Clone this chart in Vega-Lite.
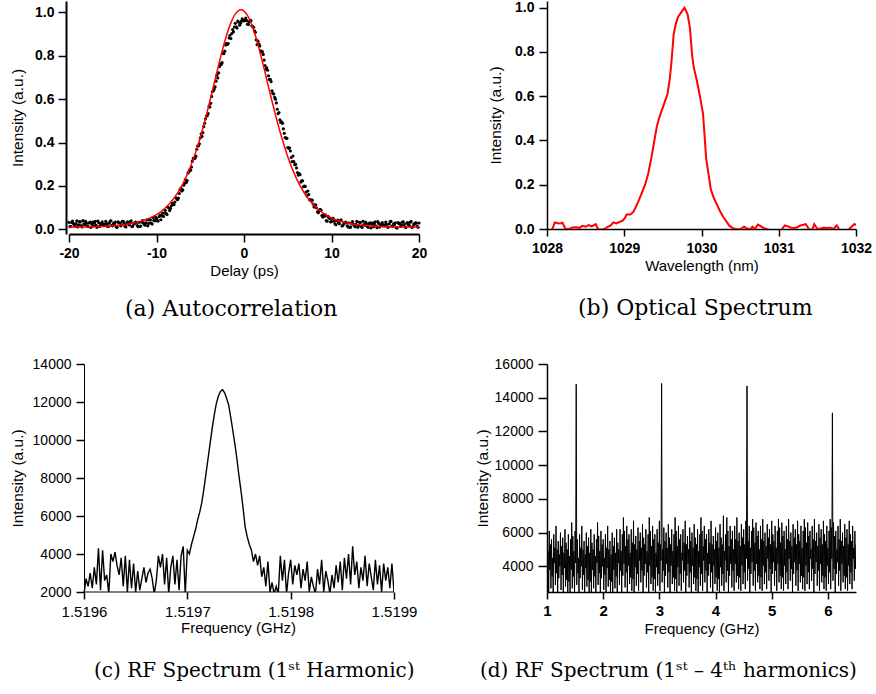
{
"$schema": "https://vega.github.io/schema/vega-lite/v6.json",
"background": "white",
"padding": {"left": 10, "top": 0, "right": 0, "bottom": 0},
"config": {
  "view": {"stroke": null},
  "font": "Liberation Sans",
  "axis": {"grid": false, "domainColor": "black", "tickColor": "black", "labelColor": "black", "titleColor": "black", "labelFont": "Liberation Sans", "titleFont": "Liberation Sans", "titleFontWeight": "normal", "domainWidth": 1.5, "tickWidth": 1.5, "labelOverlap": false},
  "title": {"font": "DejaVu Serif", "fontSize": 22, "fontWeight": "normal", "color": "black", "orient": "bottom", "anchor": "start"}
},
"datasets": {
"acDots": [
{"t":-20.0,"i":0.033},{"t":-19.9,"i":0.013},{"t":-19.8,"i":0.015},{"t":-19.7,"i":0.032},{"t":-19.6,"i":0.039},{"t":-19.5,"i":0.028},{"t":-19.4,"i":0.021},{"t":-19.3,"i":0.016},{"t":-19.2,"i":0.027},{"t":-19.1,"i":0.040},
{"t":-19.0,"i":0.012},{"t":-18.9,"i":0.021},{"t":-18.8,"i":0.036},{"t":-18.7,"i":0.035},{"t":-18.6,"i":0.018},{"t":-18.5,"i":0.012},{"t":-18.4,"i":0.041},{"t":-18.3,"i":0.026},{"t":-18.2,"i":0.023},{"t":-18.1,"i":0.037},
{"t":-18.0,"i":0.030},{"t":-17.9,"i":0.017},{"t":-17.8,"i":0.013},{"t":-17.7,"i":0.030},{"t":-17.6,"i":0.034},{"t":-17.5,"i":0.010},{"t":-17.4,"i":0.025},{"t":-17.3,"i":0.034},{"t":-17.2,"i":0.016},{"t":-17.1,"i":0.029},
{"t":-17.0,"i":0.038},{"t":-16.9,"i":0.019},{"t":-16.8,"i":0.010},{"t":-16.7,"i":0.039},{"t":-16.6,"i":0.031},{"t":-16.5,"i":0.014},{"t":-16.4,"i":0.020},{"t":-16.3,"i":0.027},{"t":-16.2,"i":0.035},{"t":-16.1,"i":0.024},
{"t":-16.0,"i":0.019},{"t":-15.9,"i":0.024},{"t":-15.8,"i":0.037},{"t":-15.7,"i":0.027},{"t":-15.6,"i":0.014},{"t":-15.5,"i":0.014},{"t":-15.4,"i":0.029},{"t":-15.3,"i":0.039},{"t":-15.2,"i":0.040},{"t":-15.1,"i":0.019},
{"t":-15.0,"i":0.017},{"t":-14.9,"i":0.029},{"t":-14.8,"i":0.026},{"t":-14.7,"i":0.034},{"t":-14.6,"i":0.011},{"t":-14.5,"i":0.010},{"t":-14.4,"i":0.035},{"t":-14.3,"i":0.030},{"t":-14.2,"i":0.031},{"t":-14.1,"i":0.017},
{"t":-14.0,"i":0.022},{"t":-13.9,"i":0.037},{"t":-13.8,"i":0.038},{"t":-13.7,"i":0.026},{"t":-13.6,"i":0.015},{"t":-13.5,"i":0.012},{"t":-13.4,"i":0.032},{"t":-13.3,"i":0.035},{"t":-13.2,"i":0.024},{"t":-13.1,"i":0.021},
{"t":-13.0,"i":0.036},{"t":-12.9,"i":0.040},{"t":-12.8,"i":0.013},{"t":-12.7,"i":0.016},{"t":-12.6,"i":0.028},{"t":-12.5,"i":0.028},{"t":-12.4,"i":0.034},{"t":-12.3,"i":0.032},{"t":-12.2,"i":0.018},{"t":-12.1,"i":0.013},
{"t":-12.0,"i":0.033},{"t":-11.9,"i":0.014},{"t":-11.8,"i":0.016},{"t":-11.7,"i":0.034},{"t":-11.6,"i":0.041},{"t":-11.5,"i":0.031},{"t":-11.4,"i":0.024},{"t":-11.3,"i":0.020},{"t":-11.2,"i":0.031},{"t":-11.1,"i":0.045},
{"t":-11.0,"i":0.017},{"t":-10.9,"i":0.028},{"t":-10.8,"i":0.044},{"t":-10.7,"i":0.045},{"t":-10.6,"i":0.029},{"t":-10.5,"i":0.025},{"t":-10.4,"i":0.055},{"t":-10.3,"i":0.042},{"t":-10.2,"i":0.040},{"t":-10.1,"i":0.056},
{"t":-10.0,"i":0.050},{"t":-9.9,"i":0.040},{"t":-9.8,"i":0.039},{"t":-9.7,"i":0.059},{"t":-9.6,"i":0.066},{"t":-9.5,"i":0.045},{"t":-9.4,"i":0.063},{"t":-9.3,"i":0.075},{"t":-9.2,"i":0.060},{"t":-9.1,"i":0.076},
{"t":-9.0,"i":0.088},{"t":-8.9,"i":0.074},{"t":-8.8,"i":0.069},{"t":-8.7,"i":0.103},{"t":-8.6,"i":0.099},{"t":-8.5,"i":0.087},{"t":-8.4,"i":0.097},{"t":-8.3,"i":0.109},{"t":-8.2,"i":0.121},{"t":-8.1,"i":0.115},
{"t":-8.0,"i":0.114},{"t":-7.9,"i":0.126},{"t":-7.8,"i":0.146},{"t":-7.7,"i":0.143},{"t":-7.6,"i":0.137},{"t":-7.5,"i":0.144},{"t":-7.4,"i":0.166},{"t":-7.3,"i":0.183},{"t":-7.2,"i":0.191},{"t":-7.1,"i":0.177},
{"t":-7.0,"i":0.182},{"t":-6.9,"i":0.204},{"t":-6.8,"i":0.211},{"t":-6.7,"i":0.229},{"t":-6.6,"i":0.216},{"t":-6.5,"i":0.225},{"t":-6.4,"i":0.260},{"t":-6.3,"i":0.265},{"t":-6.2,"i":0.276},{"t":-6.1,"i":0.272},
{"t":-6.0,"i":0.287},{"t":-5.9,"i":0.314},{"t":-5.8,"i":0.327},{"t":-5.7,"i":0.327},{"t":-5.6,"i":0.328},{"t":-5.5,"i":0.337},{"t":-5.4,"i":0.369},{"t":-5.3,"i":0.384},{"t":-5.2,"i":0.385},{"t":-5.1,"i":0.394},
{"t":-5.0,"i":0.421},{"t":-4.9,"i":0.440},{"t":-4.8,"i":0.428},{"t":-4.7,"i":0.446},{"t":-4.6,"i":0.473},{"t":-4.5,"i":0.488},{"t":-4.4,"i":0.509},{"t":-4.3,"i":0.522},{"t":-4.2,"i":0.523},{"t":-4.1,"i":0.533},
{"t":-4.0,"i":0.568},{"t":-3.9,"i":0.563},{"t":-3.8,"i":0.580},{"t":-3.7,"i":0.612},{"t":-3.6,"i":0.634},{"t":-3.5,"i":0.638},{"t":-3.4,"i":0.646},{"t":-3.3,"i":0.656},{"t":-3.2,"i":0.682},{"t":-3.1,"i":0.710},
{"t":-3.0,"i":0.697},{"t":-2.9,"i":0.720},{"t":-2.8,"i":0.749},{"t":-2.7,"i":0.762},{"t":-2.6,"i":0.759},{"t":-2.5,"i":0.767},{"t":-2.4,"i":0.810},{"t":-2.3,"i":0.809},{"t":-2.2,"i":0.820},{"t":-2.1,"i":0.848},
{"t":-2.0,"i":0.855},{"t":-1.9,"i":0.851},{"t":-1.8,"i":0.855},{"t":-1.7,"i":0.881},{"t":-1.6,"i":0.893},{"t":-1.5,"i":0.878},{"t":-1.4,"i":0.901},{"t":-1.3,"i":0.919},{"t":-1.2,"i":0.909},{"t":-1.1,"i":0.931},
{"t":-1.0,"i":0.948},{"t":-0.9,"i":0.932},{"t":-0.8,"i":0.926},{"t":-0.7,"i":0.958},{"t":-0.6,"i":0.953},{"t":-0.5,"i":0.939},{"t":-0.4,"i":0.948},{"t":-0.3,"i":0.958},{"t":-0.2,"i":0.969},{"t":-0.1,"i":0.961},
{"t":0.0,"i":0.959},{"t":0.1,"i":0.962},{"t":0.2,"i":0.972},{"t":0.3,"i":0.960},{"t":0.4,"i":0.944},{"t":0.5,"i":0.942},{"t":0.6,"i":0.954},{"t":0.7,"i":0.962},{"t":0.8,"i":0.960},{"t":0.9,"i":0.937},
{"t":1.0,"i":0.932},{"t":1.1,"i":0.930},{"t":1.2,"i":0.913},{"t":1.3,"i":0.907},{"t":1.4,"i":0.872},{"t":1.5,"i":0.850},{"t":1.6,"i":0.866},{"t":1.7,"i":0.852},{"t":1.8,"i":0.844},{"t":1.9,"i":0.821},
{"t":2.0,"i":0.817},{"t":2.1,"i":0.818},{"t":2.2,"i":0.805},{"t":2.3,"i":0.779},{"t":2.4,"i":0.754},{"t":2.5,"i":0.737},{"t":2.6,"i":0.743},{"t":2.7,"i":0.732},{"t":2.8,"i":0.707},{"t":2.9,"i":0.690},
{"t":3.0,"i":0.691},{"t":3.1,"i":0.680},{"t":3.2,"i":0.638},{"t":3.3,"i":0.626},{"t":3.4,"i":0.623},{"t":3.5,"i":0.608},{"t":3.6,"i":0.599},{"t":3.7,"i":0.582},{"t":3.8,"i":0.553},{"t":3.9,"i":0.533},
{"t":4.0,"i":0.538},{"t":4.1,"i":0.504},{"t":4.2,"i":0.492},{"t":4.3,"i":0.495},{"t":4.4,"i":0.488},{"t":4.5,"i":0.463},{"t":4.6,"i":0.442},{"t":4.7,"i":0.423},{"t":4.8,"i":0.420},{"t":4.9,"i":0.419},
{"t":5.0,"i":0.377},{"t":5.1,"i":0.373},{"t":5.2,"i":0.375},{"t":5.3,"i":0.361},{"t":5.4,"i":0.331},{"t":5.5,"i":0.312},{"t":5.6,"i":0.338},{"t":5.7,"i":0.312},{"t":5.8,"i":0.298},{"t":5.9,"i":0.300},
{"t":6.0,"i":0.283},{"t":6.1,"i":0.262},{"t":6.2,"i":0.250},{"t":6.3,"i":0.257},{"t":6.4,"i":0.252},{"t":6.5,"i":0.218},{"t":6.6,"i":0.224},{"t":6.7,"i":0.224},{"t":6.8,"i":0.197},{"t":6.9,"i":0.200},
{"t":7.0,"i":0.198},{"t":7.1,"i":0.172},{"t":7.2,"i":0.155},{"t":7.3,"i":0.177},{"t":7.4,"i":0.161},{"t":7.5,"i":0.137},{"t":7.6,"i":0.135},{"t":7.7,"i":0.135},{"t":7.8,"i":0.135},{"t":7.9,"i":0.117},
{"t":8.0,"i":0.104},{"t":8.1,"i":0.105},{"t":8.2,"i":0.113},{"t":8.3,"i":0.099},{"t":8.4,"i":0.081},{"t":8.5,"i":0.077},{"t":8.6,"i":0.087},{"t":8.7,"i":0.093},{"t":8.8,"i":0.089},{"t":8.9,"i":0.064},
{"t":9.0,"i":0.057},{"t":9.1,"i":0.067},{"t":9.2,"i":0.061},{"t":9.3,"i":0.067},{"t":9.4,"i":0.041},{"t":9.5,"i":0.038},{"t":9.6,"i":0.060},{"t":9.7,"i":0.053},{"t":9.8,"i":0.051},{"t":9.9,"i":0.035},
{"t":10.0,"i":0.037},{"t":10.1,"i":0.051},{"t":10.2,"i":0.051},{"t":10.3,"i":0.038},{"t":10.4,"i":0.026},{"t":10.5,"i":0.022},{"t":10.6,"i":0.041},{"t":10.7,"i":0.043},{"t":10.8,"i":0.031},{"t":10.9,"i":0.027},
{"t":11.0,"i":0.041},{"t":11.1,"i":0.044},{"t":11.2,"i":0.016},{"t":11.3,"i":0.019},{"t":11.4,"i":0.030},{"t":11.5,"i":0.029},{"t":11.6,"i":0.034},{"t":11.7,"i":0.032},{"t":11.8,"i":0.017},{"t":11.9,"i":0.011},
{"t":12.0,"i":0.030},{"t":12.1,"i":0.010},{"t":12.2,"i":0.012},{"t":12.3,"i":0.029},{"t":12.4,"i":0.036},{"t":12.5,"i":0.025},{"t":12.6,"i":0.018},{"t":12.7,"i":0.013},{"t":12.8,"i":0.024},{"t":12.9,"i":0.037},
{"t":13.0,"i":0.010},{"t":13.1,"i":0.018},{"t":13.2,"i":0.033},{"t":13.3,"i":0.032},{"t":13.4,"i":0.015},{"t":13.5,"i":0.009},{"t":13.6,"i":0.038},{"t":13.7,"i":0.023},{"t":13.8,"i":0.020},{"t":13.9,"i":0.034},
{"t":14.0,"i":0.027},{"t":14.1,"i":0.014},{"t":14.2,"i":0.010},{"t":14.3,"i":0.027},{"t":14.4,"i":0.031},{"t":14.5,"i":0.007},{"t":14.6,"i":0.022},{"t":14.7,"i":0.031},{"t":14.8,"i":0.013},{"t":14.9,"i":0.026},
{"t":15.0,"i":0.035},{"t":15.1,"i":0.016},{"t":15.2,"i":0.008},{"t":15.3,"i":0.036},{"t":15.4,"i":0.028},{"t":15.5,"i":0.011},{"t":15.6,"i":0.017},{"t":15.7,"i":0.024},{"t":15.8,"i":0.032},{"t":15.9,"i":0.021},
{"t":16.0,"i":0.016},{"t":16.1,"i":0.021},{"t":16.2,"i":0.034},{"t":16.3,"i":0.024},{"t":16.4,"i":0.011},{"t":16.5,"i":0.011},{"t":16.6,"i":0.026},{"t":16.7,"i":0.036},{"t":16.8,"i":0.037},{"t":16.9,"i":0.016},
{"t":17.0,"i":0.014},{"t":17.1,"i":0.026},{"t":17.2,"i":0.023},{"t":17.3,"i":0.031},{"t":17.4,"i":0.008},{"t":17.5,"i":0.007},{"t":17.6,"i":0.032},{"t":17.7,"i":0.027},{"t":17.8,"i":0.028},{"t":17.9,"i":0.014},
{"t":18.0,"i":0.019},{"t":18.1,"i":0.034},{"t":18.2,"i":0.035},{"t":18.3,"i":0.023},{"t":18.4,"i":0.012},{"t":18.5,"i":0.009},{"t":18.6,"i":0.029},{"t":18.7,"i":0.032},{"t":18.8,"i":0.021},{"t":18.9,"i":0.018},
{"t":19.0,"i":0.033},{"t":19.1,"i":0.037},{"t":19.2,"i":0.010},{"t":19.3,"i":0.013},{"t":19.4,"i":0.025},{"t":19.5,"i":0.025},{"t":19.6,"i":0.031},{"t":19.7,"i":0.029},{"t":19.8,"i":0.015},{"t":19.9,"i":0.010},
{"t":20.0,"i":0.030}
],
"acFit": [
{"t":-20,"i":0.011},{"t":-19,"i":0.011},{"t":-18,"i":0.012},{"t":-17,"i":0.013},{"t":-16,"i":0.014},{"t":-15,"i":0.017},{"t":-14,"i":0.021},{"t":-13,"i":0.026},{"t":-12,"i":0.035},{"t":-11,"i":0.048},
{"t":-10,"i":0.068},{"t":-9,"i":0.099},{"t":-8,"i":0.144},{"t":-7,"i":0.209},{"t":-6,"i":0.301},{"t":-5.5,"i":0.358},{"t":-5,"i":0.423},{"t":-4.5,"i":0.494},{"t":-4,"i":0.574},{"t":-3.5,"i":0.657},
{"t":-3,"i":0.740},{"t":-2.5,"i":0.820},{"t":-2,"i":0.892},{"t":-1.5,"i":0.950},{"t":-1,"i":0.990},{"t":-0.5,"i":1.009},{"t":-0.35,"i":1.010},{"t":0,"i":1.004},{"t":0.5,"i":0.977},{"t":1,"i":0.929},
{"t":1.5,"i":0.865},{"t":2,"i":0.788},{"t":2.5,"i":0.706},{"t":3,"i":0.623},{"t":3.5,"i":0.542},{"t":4,"i":0.466},{"t":4.5,"i":0.398},{"t":5,"i":0.334},{"t":6,"i":0.234},{"t":7,"i":0.161},
{"t":8,"i":0.111},{"t":9,"i":0.076},{"t":10,"i":0.053},{"t":11,"i":0.038},{"t":12,"i":0.029},{"t":13,"i":0.022},{"t":14,"i":0.018},{"t":15,"i":0.015},{"t":16,"i":0.013},{"t":17,"i":0.012},
{"t":18,"i":0.011},{"t":19,"i":0.011},{"t":20,"i":0.011}
],
"optSpec": [
{"w":1028.0,"i":-0.03},{"w":1028.07,"i":0.0},{"w":1028.1,"i":0.03},{"w":1028.14,"i":0.026},{"w":1028.17,"i":0.025},{"w":1028.2,"i":0.028},{"w":1028.24,"i":0.0},{"w":1028.29,"i":0.0},{"w":1028.33,"i":0.007},{"w":1028.38,"i":0.008},
{"w":1028.42,"i":0.005},{"w":1028.46,"i":0.014},{"w":1028.5,"i":0.01},{"w":1028.54,"i":0.018},{"w":1028.58,"i":0.012},{"w":1028.63,"i":0.022},{"w":1028.66,"i":0.0},{"w":1028.7,"i":-0.003},{"w":1028.74,"i":0.0},{"w":1028.78,"i":0.008},
{"w":1028.82,"i":0.015},{"w":1028.86,"i":0.03},{"w":1028.9,"i":0.025},{"w":1028.94,"i":0.032},{"w":1028.98,"i":0.038},{"w":1029.01,"i":0.05},{"w":1029.03,"i":0.066},{"w":1029.08,"i":0.066},{"w":1029.12,"i":0.078},{"w":1029.15,"i":0.1},
{"w":1029.19,"i":0.13},{"w":1029.23,"i":0.165},{"w":1029.27,"i":0.2},{"w":1029.31,"i":0.25},{"w":1029.35,"i":0.32},{"w":1029.39,"i":0.4},{"w":1029.42,"i":0.46},{"w":1029.45,"i":0.5},{"w":1029.48,"i":0.53},{"w":1029.52,"i":0.57},
{"w":1029.56,"i":0.61},{"w":1029.59,"i":0.68},{"w":1029.61,"i":0.75},{"w":1029.64,"i":0.88},{"w":1029.67,"i":0.93},{"w":1029.7,"i":0.96},{"w":1029.74,"i":0.98},{"w":1029.78,"i":1.0},{"w":1029.82,"i":0.97},{"w":1029.85,"i":0.91},
{"w":1029.88,"i":0.78},{"w":1029.9,"i":0.73},{"w":1029.94,"i":0.67},{"w":1029.98,"i":0.6},{"w":1030.02,"i":0.52},{"w":1030.04,"i":0.42},{"w":1030.06,"i":0.32},{"w":1030.09,"i":0.25},{"w":1030.12,"i":0.18},{"w":1030.16,"i":0.14},
{"w":1030.2,"i":0.11},{"w":1030.24,"i":0.08},{"w":1030.28,"i":0.055},{"w":1030.32,"i":0.035},{"w":1030.36,"i":0.015},{"w":1030.4,"i":0.005},{"w":1030.44,"i":0.0},{"w":1030.48,"i":-0.002},{"w":1030.52,"i":0.003},{"w":1030.55,"i":0.01},
{"w":1030.59,"i":0.002},{"w":1030.63,"i":-0.002},{"w":1030.66,"i":0.01},{"w":1030.69,"i":0.0},{"w":1030.73,"i":0.02},{"w":1030.77,"i":0.012},{"w":1030.81,"i":0.003},{"w":1030.86,"i":-0.002},{"w":1030.9,"i":-0.03},{"w":1030.98,"i":-0.03},
{"w":1031.04,"i":0.0},{"w":1031.08,"i":0.016},{"w":1031.12,"i":0.012},{"w":1031.16,"i":0.006},{"w":1031.2,"i":0.005},{"w":1031.24,"i":0.008},{"w":1031.28,"i":0.016},{"w":1031.33,"i":0.02},{"w":1031.35,"i":0.022},{"w":1031.39,"i":0.0},
{"w":1031.43,"i":-0.005},{"w":1031.46,"i":0.022},{"w":1031.5,"i":0.0},{"w":1031.54,"i":0.002},{"w":1031.58,"i":0.006},{"w":1031.62,"i":0.005},{"w":1031.67,"i":0.006},{"w":1031.71,"i":0.0},{"w":1031.75,"i":0.016},{"w":1031.78,"i":0.0},
{"w":1031.82,"i":-0.02},{"w":1031.87,"i":-0.02},{"w":1031.91,"i":0.0},{"w":1031.95,"i":0.012},{"w":1031.98,"i":0.022},{"w":1032.0,"i":0.017}
],
"rf1base": [
{"f0":1.5196,"f1":1.5199,"p":2000}
],
"rf1": [
{"f":1.519600,"p":1900},{"f":1.519602,"p":2700},{"f":1.519604,"p":2300},{"f":1.519606,"p":3000},{"f":1.519608,"p":2200},{"f":1.519610,"p":3300},{"f":1.519612,"p":2400},{"f":1.519614,"p":4300},{"f":1.519616,"p":2100},{"f":1.519618,"p":4200},
{"f":1.519620,"p":2600},{"f":1.519622,"p":2900},{"f":1.519624,"p":1900},{"f":1.519626,"p":4000},{"f":1.519628,"p":3600},{"f":1.519630,"p":4100},{"f":1.519632,"p":3400},{"f":1.519634,"p":2900},{"f":1.519636,"p":3800},{"f":1.519638,"p":2300},
{"f":1.519640,"p":3900},{"f":1.519642,"p":2000},{"f":1.519644,"p":3700},{"f":1.519646,"p":2200},{"f":1.519648,"p":3500},{"f":1.519650,"p":2000},{"f":1.519652,"p":3100},{"f":1.519654,"p":2100},{"f":1.519656,"p":2700},{"f":1.519658,"p":3300},
{"f":1.519660,"p":2500},{"f":1.519662,"p":3000},{"f":1.519664,"p":3200},{"f":1.519666,"p":2700},{"f":1.519668,"p":1900},{"f":1.519670,"p":2600},{"f":1.519672,"p":3900},{"f":1.519674,"p":3300},{"f":1.519676,"p":4000},{"f":1.519678,"p":2400},
{"f":1.519680,"p":3800},{"f":1.519682,"p":1900},{"f":1.519684,"p":3300},{"f":1.519686,"p":3900},{"f":1.519688,"p":2400},{"f":1.519690,"p":3700},{"f":1.519692,"p":2100},{"f":1.519694,"p":3900},{"f":1.519696,"p":4400},{"f":1.519698,"p":1900},
{"f":1.519700,"p":4200},{"f":1.519702,"p":4000},{"f":1.519704,"p":4500},{"f":1.519706,"p":4900},{"f":1.519708,"p":5300},{"f":1.519710,"p":5800},{"f":1.519712,"p":6200},{"f":1.519714,"p":6700},{"f":1.519716,"p":7400},{"f":1.519718,"p":8200},
{"f":1.519720,"p":9000},{"f":1.519722,"p":9800},{"f":1.519724,"p":10600},{"f":1.519726,"p":11300},{"f":1.519728,"p":11900},{"f":1.519730,"p":12300},{"f":1.519732,"p":12550},{"f":1.519734,"p":12650},{"f":1.519736,"p":12500},{"f":1.519738,"p":12200},
{"f":1.519740,"p":11850},{"f":1.519742,"p":11200},{"f":1.519744,"p":10500},{"f":1.519746,"p":9800},{"f":1.519748,"p":9000},{"f":1.519750,"p":8100},{"f":1.519752,"p":7300},{"f":1.519754,"p":6400},{"f":1.519756,"p":5400},{"f":1.519758,"p":4900},
{"f":1.519760,"p":4500},{"f":1.519762,"p":4200},{"f":1.519764,"p":3600},{"f":1.519766,"p":4000},{"f":1.519768,"p":3400},{"f":1.519770,"p":3900},{"f":1.519772,"p":2800},{"f":1.519774,"p":3300},{"f":1.519776,"p":2300},{"f":1.519778,"p":3600},
{"f":1.519780,"p":2000},{"f":1.519782,"p":2500},{"f":1.519784,"p":1900},{"f":1.519786,"p":2300},{"f":1.519788,"p":1900},{"f":1.519790,"p":3900},{"f":1.519792,"p":2600},{"f":1.519794,"p":3700},{"f":1.519796,"p":1900},{"f":1.519798,"p":3000},
{"f":1.519800,"p":3700},{"f":1.519802,"p":2400},{"f":1.519804,"p":3400},{"f":1.519806,"p":2900},{"f":1.519808,"p":3500},{"f":1.519810,"p":2200},{"f":1.519812,"p":3200},{"f":1.519814,"p":2600},{"f":1.519816,"p":3600},{"f":1.519818,"p":2000},
{"f":1.519820,"p":2800},{"f":1.519822,"p":2300},{"f":1.519824,"p":1900},{"f":1.519826,"p":3200},{"f":1.519828,"p":2400},{"f":1.519830,"p":3700},{"f":1.519832,"p":2000},{"f":1.519834,"p":3100},{"f":1.519836,"p":2600},{"f":1.519838,"p":1900},
{"f":1.519840,"p":2900},{"f":1.519842,"p":2200},{"f":1.519844,"p":3400},{"f":1.519846,"p":2500},{"f":1.519848,"p":3600},{"f":1.519850,"p":2100},{"f":1.519852,"p":3800},{"f":1.519854,"p":2700},{"f":1.519856,"p":4000},{"f":1.519858,"p":2400},
{"f":1.519860,"p":4400},{"f":1.519862,"p":2900},{"f":1.519864,"p":3600},{"f":1.519866,"p":2200},{"f":1.519868,"p":3300},{"f":1.519870,"p":2600},{"f":1.519872,"p":3900},{"f":1.519874,"p":2300},{"f":1.519876,"p":3500},{"f":1.519878,"p":2800},
{"f":1.519880,"p":2100},{"f":1.519882,"p":3700},{"f":1.519884,"p":2400},{"f":1.519886,"p":3400},{"f":1.519888,"p":2000},{"f":1.519890,"p":3500},{"f":1.519892,"p":2600},{"f":1.519894,"p":3300},{"f":1.519896,"p":2200},{"f":1.519898,"p":3500},
{"f":1.519900,"p":2000}
],
"rf4": [
{"f":1.00,"p":5800},{"f":1.01,"p":3100},{"f":1.02,"p":4900},{"f":1.03,"p":2300},{"f":1.04,"p":6100},{"f":1.05,"p":3800},{"f":1.06,"p":5300},{"f":1.07,"p":2700},{"f":1.08,"p":5600},{"f":1.09,"p":3400},
{"f":1.10,"p":4500},{"f":1.11,"p":2400},{"f":1.12,"p":5900},{"f":1.13,"p":4200},{"f":1.14,"p":5100},{"f":1.15,"p":2900},{"f":1.16,"p":6400},{"f":1.17,"p":3600},{"f":1.18,"p":5000},{"f":1.19,"p":2200},
{"f":1.20,"p":5500},{"f":1.21,"p":3300},{"f":1.22,"p":4700},{"f":1.23,"p":4000},{"f":1.24,"p":6000},{"f":1.25,"p":2600},{"f":1.26,"p":5200},{"f":1.27,"p":3500},{"f":1.28,"p":5700},{"f":1.29,"p":2300},
{"f":1.30,"p":4800},{"f":1.31,"p":3900},{"f":1.32,"p":6200},{"f":1.33,"p":2800},{"f":1.34,"p":5400},{"f":1.35,"p":3200},{"f":1.36,"p":5000},{"f":1.37,"p":2400},{"f":1.38,"p":5900},{"f":1.39,"p":3100},
{"f":1.40,"p":4600},{"f":1.41,"p":2300},{"f":1.42,"p":5600},{"f":1.43,"p":3800},{"f":1.44,"p":6600},{"f":1.45,"p":2700},{"f":1.46,"p":5800},{"f":1.47,"p":3400},{"f":1.48,"p":4900},{"f":1.49,"p":2400},
{"f":1.50,"p":6100},{"f":1.51,"p":4200},{"f":1.52,"p":14800},{"f":1.53,"p":2900},{"f":1.54,"p":5600},{"f":1.55,"p":3600},{"f":1.56,"p":4500},{"f":1.57,"p":2200},{"f":1.58,"p":5900},{"f":1.59,"p":3300},
{"f":1.60,"p":5100},{"f":1.61,"p":4000},{"f":1.62,"p":6400},{"f":1.63,"p":2600},{"f":1.64,"p":5000},{"f":1.65,"p":3500},{"f":1.66,"p":5500},{"f":1.67,"p":2300},{"f":1.68,"p":4700},{"f":1.69,"p":3900},
{"f":1.70,"p":6000},{"f":1.71,"p":2800},{"f":1.72,"p":5200},{"f":1.73,"p":3200},{"f":1.74,"p":5700},{"f":1.75,"p":2400},{"f":1.76,"p":4800},{"f":1.77,"p":3100},{"f":1.78,"p":6200},{"f":1.79,"p":2300},
{"f":1.80,"p":5400},{"f":1.81,"p":3800},{"f":1.82,"p":5000},{"f":1.83,"p":2700},{"f":1.84,"p":5900},{"f":1.85,"p":3400},{"f":1.86,"p":4600},{"f":1.87,"p":2400},{"f":1.88,"p":5600},{"f":1.89,"p":4200},
{"f":1.90,"p":6600},{"f":1.91,"p":2900},{"f":1.92,"p":5800},{"f":1.93,"p":3600},{"f":1.94,"p":4900},{"f":1.95,"p":2200},{"f":1.96,"p":6100},{"f":1.97,"p":3300},{"f":1.98,"p":5300},{"f":1.99,"p":4000},
{"f":2.00,"p":5600},{"f":2.01,"p":2600},{"f":2.02,"p":4500},{"f":2.03,"p":3500},{"f":2.04,"p":5900},{"f":2.05,"p":2300},{"f":2.06,"p":5100},{"f":2.07,"p":3900},{"f":2.08,"p":6400},{"f":2.09,"p":2800},
{"f":2.10,"p":5000},{"f":2.11,"p":3200},{"f":2.12,"p":5500},{"f":2.13,"p":2400},{"f":2.14,"p":4700},{"f":2.15,"p":3100},{"f":2.16,"p":6000},{"f":2.17,"p":2300},{"f":2.18,"p":5200},{"f":2.19,"p":3800},
{"f":2.20,"p":5700},{"f":2.21,"p":2700},{"f":2.22,"p":4800},{"f":2.23,"p":3400},{"f":2.24,"p":6200},{"f":2.25,"p":2400},{"f":2.26,"p":5400},{"f":2.27,"p":4200},{"f":2.28,"p":5000},{"f":2.29,"p":2900},
{"f":2.30,"p":6200},{"f":2.31,"p":3750},{"f":2.32,"p":4900},{"f":2.33,"p":2350},{"f":2.34,"p":5900},{"f":2.35,"p":3450},{"f":2.36,"p":6900},{"f":2.37,"p":4150},{"f":2.38,"p":6100},{"f":2.39,"p":2750},
{"f":2.40,"p":5200},{"f":2.41,"p":3650},{"f":2.42,"p":6400},{"f":2.43,"p":2450},{"f":2.44,"p":5600},{"f":2.45,"p":4050},{"f":2.46,"p":5900},{"f":2.47,"p":2950},{"f":2.48,"p":4800},{"f":2.49,"p":3350},
{"f":2.50,"p":6200},{"f":2.51,"p":2550},{"f":2.52,"p":5400},{"f":2.53,"p":3250},{"f":2.54,"p":6700},{"f":2.55,"p":2450},{"f":2.56,"p":5300},{"f":2.57,"p":3950},{"f":2.58,"p":5800},{"f":2.59,"p":2850},
{"f":2.60,"p":5000},{"f":2.61,"p":3550},{"f":2.62,"p":6300},{"f":2.63,"p":2550},{"f":2.64,"p":5500},{"f":2.65,"p":4350},{"f":2.66,"p":6000},{"f":2.67,"p":3050},{"f":2.68,"p":5100},{"f":2.69,"p":3750},
{"f":2.70,"p":6500},{"f":2.71,"p":2350},{"f":2.72,"p":5700},{"f":2.73,"p":3450},{"f":2.74,"p":5300},{"f":2.75,"p":4150},{"f":2.76,"p":6200},{"f":2.77,"p":2750},{"f":2.78,"p":4900},{"f":2.79,"p":3650},
{"f":2.80,"p":5900},{"f":2.81,"p":2450},{"f":2.82,"p":6900},{"f":2.83,"p":4050},{"f":2.84,"p":6100},{"f":2.85,"p":2950},{"f":2.86,"p":5200},{"f":2.87,"p":3350},{"f":2.88,"p":6400},{"f":2.89,"p":2550},
{"f":2.90,"p":5600},{"f":2.91,"p":3250},{"f":2.92,"p":5900},{"f":2.93,"p":2450},{"f":2.94,"p":4800},{"f":2.95,"p":3950},{"f":2.96,"p":6200},{"f":2.97,"p":2850},{"f":2.98,"p":5400},{"f":2.99,"p":3550},
{"f":3.00,"p":6700},{"f":3.01,"p":2550},{"f":3.02,"p":5300},{"f":3.03,"p":4350},{"f":3.04,"p":14850},{"f":3.05,"p":3050},{"f":3.06,"p":5000},{"f":3.07,"p":3750},{"f":3.08,"p":6300},{"f":3.09,"p":2350},
{"f":3.10,"p":5500},{"f":3.11,"p":3450},{"f":3.12,"p":6000},{"f":3.13,"p":4150},{"f":3.14,"p":5100},{"f":3.15,"p":2750},{"f":3.16,"p":6500},{"f":3.17,"p":3650},{"f":3.18,"p":5700},{"f":3.19,"p":2450},
{"f":3.20,"p":5300},{"f":3.21,"p":4050},{"f":3.22,"p":6200},{"f":3.23,"p":2950},{"f":3.24,"p":4900},{"f":3.25,"p":3350},{"f":3.26,"p":5900},{"f":3.27,"p":2550},{"f":3.28,"p":6900},{"f":3.29,"p":3250},
{"f":3.30,"p":6100},{"f":3.31,"p":2450},{"f":3.32,"p":5200},{"f":3.33,"p":3950},{"f":3.34,"p":6400},{"f":3.35,"p":2850},{"f":3.36,"p":5600},{"f":3.37,"p":3550},{"f":3.38,"p":5900},{"f":3.39,"p":2550},
{"f":3.40,"p":4800},{"f":3.41,"p":4350},{"f":3.42,"p":6200},{"f":3.43,"p":3050},{"f":3.44,"p":5400},{"f":3.45,"p":3750},{"f":3.46,"p":6700},{"f":3.47,"p":2350},{"f":3.48,"p":5300},{"f":3.49,"p":3450},
{"f":3.50,"p":5800},{"f":3.51,"p":4150},{"f":3.52,"p":5000},{"f":3.53,"p":2750},{"f":3.54,"p":6300},{"f":3.55,"p":3650},{"f":3.56,"p":5500},{"f":3.57,"p":2450},{"f":3.58,"p":6000},{"f":3.59,"p":4050},
{"f":3.60,"p":5100},{"f":3.61,"p":2950},{"f":3.62,"p":6500},{"f":3.63,"p":3350},{"f":3.64,"p":5700},{"f":3.65,"p":2550},{"f":3.66,"p":5300},{"f":3.67,"p":3250},{"f":3.68,"p":6200},{"f":3.69,"p":2450},
{"f":3.70,"p":4900},{"f":3.71,"p":3950},{"f":3.72,"p":5900},{"f":3.73,"p":2850},{"f":3.74,"p":6900},{"f":3.75,"p":3550},{"f":3.76,"p":6100},{"f":3.77,"p":2550},{"f":3.78,"p":5200},{"f":3.79,"p":4350},
{"f":3.80,"p":6400},{"f":3.81,"p":3050},{"f":3.82,"p":5600},{"f":3.83,"p":3750},{"f":3.84,"p":5900},{"f":3.85,"p":2350},{"f":3.86,"p":4800},{"f":3.87,"p":3450},{"f":3.88,"p":6200},{"f":3.89,"p":4150},
{"f":3.90,"p":5400},{"f":3.91,"p":2750},{"f":3.92,"p":6700},{"f":3.93,"p":3650},{"f":3.94,"p":5300},{"f":3.95,"p":2450},{"f":3.96,"p":5800},{"f":3.97,"p":4050},{"f":3.98,"p":5000},{"f":3.99,"p":2950},
{"f":4.00,"p":6300},{"f":4.01,"p":3350},{"f":4.02,"p":5500},{"f":4.03,"p":2550},{"f":4.04,"p":6000},{"f":4.05,"p":3250},{"f":4.06,"p":5100},{"f":4.07,"p":2450},{"f":4.08,"p":6500},{"f":4.09,"p":3950},
{"f":4.10,"p":5700},{"f":4.11,"p":2850},{"f":4.12,"p":5300},{"f":4.13,"p":3550},{"f":4.14,"p":7000},{"f":4.15,"p":2550},{"f":4.16,"p":4900},{"f":4.17,"p":4350},{"f":4.18,"p":5900},{"f":4.19,"p":3050},
{"f":4.20,"p":6900},{"f":4.21,"p":3750},{"f":4.22,"p":6100},{"f":4.23,"p":2350},{"f":4.24,"p":5200},{"f":4.25,"p":3450},{"f":4.26,"p":6400},{"f":4.27,"p":4150},{"f":4.28,"p":5600},{"f":4.29,"p":2750},
{"f":4.30,"p":6100},{"f":4.31,"p":3750},{"f":4.32,"p":5000},{"f":4.33,"p":2550},{"f":4.34,"p":6400},{"f":4.35,"p":4150},{"f":4.36,"p":5600},{"f":4.37,"p":3050},{"f":4.38,"p":6900},{"f":4.39,"p":3450},
{"f":4.40,"p":5500},{"f":4.41,"p":2650},{"f":4.42,"p":6000},{"f":4.43,"p":3350},{"f":4.44,"p":5200},{"f":4.45,"p":2550},{"f":4.46,"p":6500},{"f":4.47,"p":4050},{"f":4.48,"p":5700},{"f":4.49,"p":2950},
{"f":4.50,"p":6200},{"f":4.51,"p":3650},{"f":4.52,"p":5300},{"f":4.53,"p":2650},{"f":4.54,"p":6700},{"f":4.55,"p":4450},{"f":4.56,"p":14700},{"f":4.57,"p":3150},{"f":4.58,"p":5500},{"f":4.59,"p":3850},
{"f":4.60,"p":6400},{"f":4.61,"p":2450},{"f":4.62,"p":5100},{"f":4.63,"p":3550},{"f":4.64,"p":6100},{"f":4.65,"p":4250},{"f":4.66,"p":6800},{"f":4.67,"p":2850},{"f":4.68,"p":6300},{"f":4.69,"p":3750},
{"f":4.70,"p":5400},{"f":4.71,"p":2550},{"f":4.72,"p":6600},{"f":4.73,"p":4150},{"f":4.74,"p":5800},{"f":4.75,"p":3050},{"f":4.76,"p":6100},{"f":4.77,"p":3450},{"f":4.78,"p":5000},{"f":4.79,"p":2650},
{"f":4.80,"p":6400},{"f":4.81,"p":3350},{"f":4.82,"p":5600},{"f":4.83,"p":2550},{"f":4.84,"p":6800},{"f":4.85,"p":4050},{"f":4.86,"p":5500},{"f":4.87,"p":2950},{"f":4.88,"p":6000},{"f":4.89,"p":3650},
{"f":4.90,"p":5200},{"f":4.91,"p":2650},{"f":4.92,"p":6500},{"f":4.93,"p":4450},{"f":4.94,"p":5700},{"f":4.95,"p":3150},{"f":4.96,"p":6200},{"f":4.97,"p":3850},{"f":4.98,"p":5300},{"f":4.99,"p":2450},
{"f":5.00,"p":6700},{"f":5.01,"p":3550},{"f":5.02,"p":5900},{"f":5.03,"p":4250},{"f":5.04,"p":5500},{"f":5.05,"p":2850},{"f":5.06,"p":6400},{"f":5.07,"p":3750},{"f":5.08,"p":5100},{"f":5.09,"p":2550},
{"f":5.10,"p":6100},{"f":5.11,"p":4150},{"f":5.12,"p":6800},{"f":5.13,"p":3050},{"f":5.14,"p":6300},{"f":5.15,"p":3450},{"f":5.16,"p":5400},{"f":5.17,"p":2650},{"f":5.18,"p":6600},{"f":5.19,"p":3350},
{"f":5.20,"p":5800},{"f":5.21,"p":2550},{"f":5.22,"p":6100},{"f":5.23,"p":4050},{"f":5.24,"p":5000},{"f":5.25,"p":2950},{"f":5.26,"p":6400},{"f":5.27,"p":3650},{"f":5.28,"p":5600},{"f":5.29,"p":2650},
{"f":5.30,"p":6800},{"f":5.31,"p":4450},{"f":5.32,"p":5500},{"f":5.33,"p":3150},{"f":5.34,"p":6000},{"f":5.35,"p":3850},{"f":5.36,"p":5200},{"f":5.37,"p":2450},{"f":5.38,"p":6500},{"f":5.39,"p":3550},
{"f":5.40,"p":5700},{"f":5.41,"p":4250},{"f":5.42,"p":6200},{"f":5.43,"p":2850},{"f":5.44,"p":5300},{"f":5.45,"p":3750},{"f":5.46,"p":6700},{"f":5.47,"p":2550},{"f":5.48,"p":5900},{"f":5.49,"p":4150},
{"f":5.50,"p":5500},{"f":5.51,"p":3050},{"f":5.52,"p":6400},{"f":5.53,"p":3450},{"f":5.54,"p":5100},{"f":5.55,"p":2650},{"f":5.56,"p":6100},{"f":5.57,"p":3350},{"f":5.58,"p":6800},{"f":5.59,"p":2550},
{"f":5.60,"p":6300},{"f":5.61,"p":4050},{"f":5.62,"p":5400},{"f":5.63,"p":2950},{"f":5.64,"p":6600},{"f":5.65,"p":3650},{"f":5.66,"p":5800},{"f":5.67,"p":2650},{"f":5.68,"p":6100},{"f":5.69,"p":4450},
{"f":5.70,"p":5000},{"f":5.71,"p":3150},{"f":5.72,"p":6400},{"f":5.73,"p":3850},{"f":5.74,"p":5600},{"f":5.75,"p":2450},{"f":5.76,"p":6800},{"f":5.77,"p":3550},{"f":5.78,"p":5500},{"f":5.79,"p":4250},
{"f":5.80,"p":6000},{"f":5.81,"p":2850},{"f":5.82,"p":5200},{"f":5.83,"p":3750},{"f":5.84,"p":6500},{"f":5.85,"p":2550},{"f":5.86,"p":5700},{"f":5.87,"p":4150},{"f":5.88,"p":6200},{"f":5.89,"p":3050},
{"f":5.90,"p":5300},{"f":5.91,"p":3450},{"f":5.92,"p":6700},{"f":5.93,"p":2650},{"f":5.94,"p":5900},{"f":5.95,"p":3350},{"f":5.96,"p":5500},{"f":5.97,"p":2550},{"f":5.98,"p":6400},{"f":5.99,"p":4050},
{"f":6.00,"p":5100},{"f":6.01,"p":2950},{"f":6.02,"p":6100},{"f":6.03,"p":3650},{"f":6.04,"p":6800},{"f":6.05,"p":2650},{"f":6.06,"p":6300},{"f":6.07,"p":4450},{"f":6.08,"p":13100},{"f":6.09,"p":3150},
{"f":6.10,"p":6600},{"f":6.11,"p":3850},{"f":6.12,"p":5800},{"f":6.13,"p":2450},{"f":6.14,"p":6100},{"f":6.15,"p":3550},{"f":6.16,"p":5000},{"f":6.17,"p":4250},{"f":6.18,"p":6400},{"f":6.19,"p":2850},
{"f":6.20,"p":5600},{"f":6.21,"p":3750},{"f":6.22,"p":6800},{"f":6.23,"p":2550},{"f":6.24,"p":5500},{"f":6.25,"p":4150},{"f":6.26,"p":6000},{"f":6.27,"p":3050},{"f":6.28,"p":5200},{"f":6.29,"p":3450},
{"f":6.30,"p":6500},{"f":6.31,"p":2650},{"f":6.32,"p":5700},{"f":6.33,"p":3350},{"f":6.34,"p":6200},{"f":6.35,"p":2550},{"f":6.36,"p":5300},{"f":6.37,"p":4050},{"f":6.38,"p":6700},{"f":6.39,"p":2950},
{"f":6.40,"p":5900},{"f":6.41,"p":3650},{"f":6.42,"p":5500},{"f":6.43,"p":2650},{"f":6.44,"p":6400},{"f":6.45,"p":4450},{"f":6.46,"p":5100},{"f":6.47,"p":3150},{"f":6.48,"p":6100},{"f":6.49,"p":3850},
{"f":6.50,"p":5300}
]
},
"spacing": 37,
"vconcat": [
{
"hconcat": [
{
"width": 350, "height": 233,
"title": {"text": "(a) Autocorrelation", "dx": 115, "offset": 21},
"layer": [
{"data": {"name": "acDots"}, "mark": {"type": "point", "filled": true, "size": 10, "color": "black", "opacity": 1},
 "encoding": {
  "x": {"field": "t", "type": "quantitative", "scale": {"domain": [-20, 20], "nice": false},
        "axis": {"title": "Delay (ps)", "values": [-20, -10, 0, 10, 20], "labelExpr": "datum.value < 0 ? '-' + abs(datum.value) : '' + datum.value", "labelFontSize": 14, "labelFontWeight": "bold", "tickSize": 8, "labelPadding": 4, "labelFlush": false, "labelOverlap": false, "titleFontSize": 15, "titleY": 29, "titleBaseline": "top", "domainWidth": 2}},
  "y": {"field": "i", "type": "quantitative", "scale": {"domain": [-0.0207, 1.0506], "nice": false, "zero": false},
        "axis": {"title": "Intensity (a.u.)", "values": [0, 0.2, 0.4, 0.6, 0.8, 1.0], "format": ".1f", "labelFontSize": 14, "labelFontWeight": "bold", "tickSize": 8, "labelPadding": 4, "labelOverlap": false, "offset": 3, "titleFontSize": 15.5, "titleX": -41, "titleBaseline": "bottom", "domainWidth": 2}}
 }},
{"data": {"name": "acFit"}, "mark": {"type": "line", "color": "#ff0000", "strokeWidth": 1.5, "interpolate": "monotone"},
 "encoding": {"x": {"field": "t", "type": "quantitative"}, "y": {"field": "i", "type": "quantitative"}}}
]
},
{
"width": 309, "height": 228,
"title": {"text": "(b) Optical Spectrum", "dx": 90, "offset": 25},
"data": {"name": "optSpec"},
"mark": {"type": "line", "color": "#ff0000", "strokeWidth": 2, "clip": true},
"encoding": {
  "x": {"field": "w", "type": "quantitative", "scale": {"domain": [1028, 1032], "nice": false, "zero": false},
        "axis": {"title": "Wavelength (nm)", "values": [1028, 1029, 1030, 1031, 1032], "format": "d", "labelFontSize": 14, "labelFontWeight": "bold", "tickSize": 7, "labelPadding": 5, "labelFlush": false, "labelOverlap": false, "titleFontSize": 15, "titleY": 29, "titleBaseline": "top"}},
  "y": {"field": "i", "type": "quantitative", "scale": {"domain": [0, 1.03], "nice": false, "zero": false},
        "axis": {"title": "Intensity (a.u.)", "values": [0, 0.2, 0.4, 0.6, 0.8, 1.0], "format": ".1f", "labelFontSize": 14, "labelFontWeight": "bold", "tickSize": 8, "labelPadding": 5, "labelOverlap": false, "titleFontSize": 15.5, "titleX": -44, "titleBaseline": "bottom"}}
}
}
],
"spacing": 128,
"bounds": "flush"
},
{
"hconcat": [
{
"width": 325, "height": 228,
"title": {"text": "(c) RF Spectrum (1ˢᵗ Harmonic)", "dx": 84, "offset": 26, "fontSize": 20},
"layer": [
{"data": {"name": "rf1"},
 "mark": {"type": "line", "color": "black", "strokeWidth": 1.4, "clip": true},
 "encoding": {
  "x": {"field": "f", "type": "quantitative", "scale": {"domain": [1.5195855, 1.5199], "nice": false, "zero": false},
        "axis": {"title": "Frequency (GHz)", "values": [1.5196, 1.5197, 1.5198, 1.5199], "format": ".4f", "labelFontSize": 15, "tickSize": 7, "labelPadding": 5, "labelFlush": false, "labelOverlap": false, "titleFontSize": 15, "titleX": 169, "titleY": 28, "titleBaseline": "top", "domain": false}},
  "y": {"field": "p", "type": "quantitative", "scale": {"domain": [2000, 14000], "nice": false, "zero": false},
        "axis": {"title": "Intensity (a.u.)", "values": [2000, 4000, 6000, 8000, 10000, 12000, 14000], "format": "d", "labelFontSize": 14, "tickSize": 8, "labelPadding": 5, "labelOverlap": false, "offset": -15, "titleFontSize": 15.5, "titleX": -59, "titleBaseline": "bottom", "domainWidth": 1}}
 }},
{"data": {"name": "rf1base"},
 "mark": {"type": "rule", "color": "black", "strokeWidth": 1},
 "encoding": {
  "x": {"field": "f0", "type": "quantitative"},
  "x2": {"field": "f1"},
  "y": {"field": "p", "type": "quantitative",
        "axis": {"title": "Intensity (a.u.)", "values": [2000, 4000, 6000, 8000, 10000, 12000, 14000], "format": "d", "labelFontSize": 14, "tickSize": 8, "labelPadding": 5, "labelOverlap": false, "offset": -15, "titleFontSize": 15.5, "titleX": -59, "titleBaseline": "bottom", "domainWidth": 1}}
 }}
]
},
{
"width": 309, "height": 228,
"title": {"text": "(d) RF Spectrum (1ˢᵗ – 4ᵗʰ harmonics)", "dx": 5, "offset": 25, "fontSize": 20},
"data": {"name": "rf4"},
"mark": {"type": "line", "color": "black", "strokeWidth": 1, "clip": true},
"encoding": {
  "x": {"field": "f", "type": "quantitative", "scale": {"domain": [1, 6.5], "nice": false, "zero": false},
        "axis": {"title": "Frequency (GHz)", "values": [1, 2, 3, 4, 5, 6], "format": "d", "labelFontSize": 15, "labelFontWeight": "bold", "tickSize": 7, "labelPadding": 4, "labelFlush": false, "labelOverlap": false, "titleFontSize": 15, "titleY": 29, "titleBaseline": "top", "domainWidth": 1.5}},
  "y": {"field": "p", "type": "quantitative", "scale": {"domain": [2480, 16000], "nice": false, "zero": false},
        "axis": {"title": "Intensity (a.u.)", "values": [4000, 6000, 8000, 10000, 12000, 14000, 16000], "format": "d", "labelFontSize": 14, "tickSize": 9, "labelPadding": 5, "labelOverlap": false, "titleFontSize": 15.5, "titleX": -57, "titleBaseline": "bottom", "domainWidth": 1.5}}
}
}
],
"spacing": 153,
"bounds": "flush"
}
]
}
